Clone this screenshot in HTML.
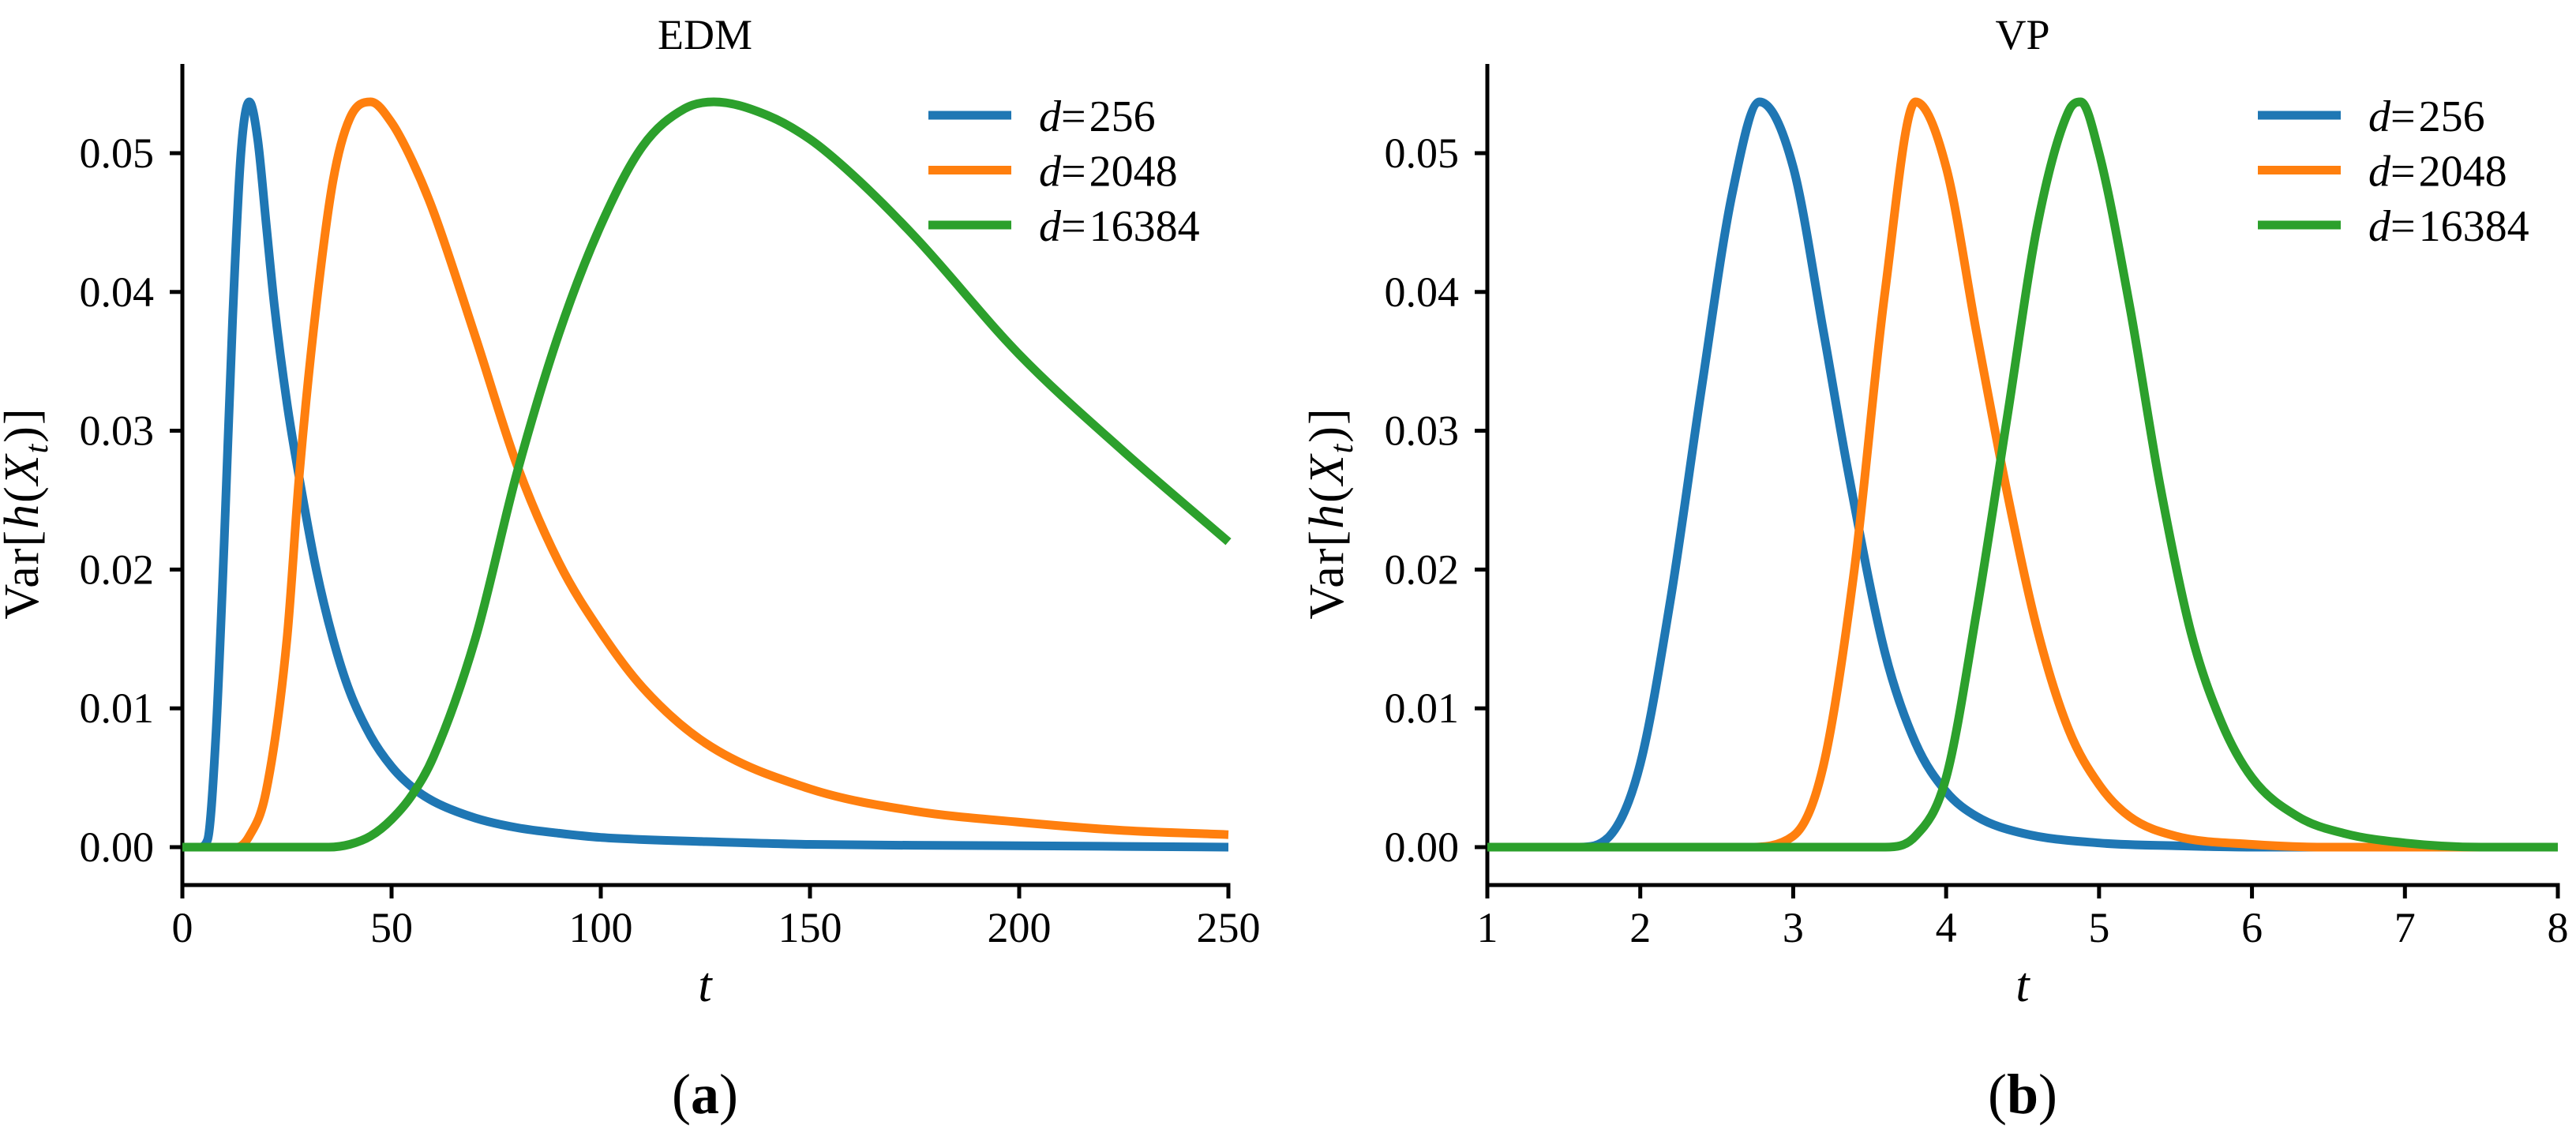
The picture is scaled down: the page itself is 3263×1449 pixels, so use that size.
<!DOCTYPE html>
<html><head><meta charset="utf-8"><style>
html,body{margin:0;padding:0;background:#fff;}
svg text{font-family:"Liberation Serif",serif;fill:#000;}
</style></head><body>
<svg id="fig" width="3263" height="1444" xmlns="http://www.w3.org/2000/svg"></svg>
<script>
const tA=[0,4,6,8,10,12,14,16,18,20,22,25,28,32,36,40,45,50,55,60,70,80,90,100,125,150,200,250];
const blueA=[0,0,0.0005,0.008,0.022,0.038,0.050,0.0537,0.051,0.045,0.039,0.032,0.0265,0.020,0.015,0.0112,0.008,0.0058,0.0043,0.0033,0.0021,0.0014,0.001,0.0007,0.0004,0.0002,0.0001,0];
const tA2=[0,13,16,20,25,28,32,36,40,45,50,55,60,70,80,90,100,110,125,150,175,200,225,250];
const orangeA=[0,0,0.0008,0.004,0.015,0.027,0.039,0.048,0.0525,0.0537,0.0522,0.0494,0.0458,0.0368,0.0275,0.0205,0.0155,0.0115,0.0075,0.0042,0.0026,0.0018,0.0012,0.0009];
const tA3=[0,35,40,45,50,55,60,70,80,90,100,110,120,127,140,150,160,175,200,225,250];
const greenA=[0,0,0.0002,0.0008,0.002,0.0038,0.0065,0.015,0.027,0.037,0.0448,0.0505,0.0532,0.0537,0.0527,0.051,0.0485,0.044,0.0355,0.0285,0.022];
const tB1=[1,1.6,1.8,2.0,2.2,2.4,2.6,2.78,3.0,3.2,3.36,3.6,3.8,4.0,4.2,4.5,5.0,5.5,6,8];
const blueB=[0,0,0.0008,0.006,0.018,0.033,0.047,0.0537,0.049,0.037,0.027,0.014,0.0075,0.004,0.0022,0.001,0.0003,0.0001,0,0];
const tB2=[1,2.7,3.0,3.2,3.4,3.6,3.8,4.0,4.2,4.4,4.6,4.8,5.0,5.2,5.5,6,6.5,8];
const orangeB=[0,0,0.0008,0.006,0.02,0.04,0.0537,0.049,0.037,0.0255,0.0155,0.0085,0.0045,0.0022,0.0008,0.0002,0,0];
const tB3=[1,3.6,3.8,4.0,4.2,4.4,4.6,4.8,4.88,5.0,5.2,5.4,5.6,5.8,6.0,6.3,6.6,7,7.5,8];
const greenB=[0,0,0.0008,0.005,0.017,0.031,0.045,0.053,0.0537,0.05,0.039,0.026,0.0155,0.009,0.005,0.0022,0.001,0.0003,0,0];
const yTicks=[0,0.01,0.02,0.03,0.04,0.05];
const yTickLabels=["0.00","0.01","0.02","0.03","0.04","0.05"];
const xTicksA=[0,50,100,150,200,250];
const xTicksB=[1,2,3,4,5,6,7,8];
const legendLabels=["256","2048","16384"];

const NS="http://www.w3.org/2000/svg";
const svg=document.getElementById('fig');
function mk(tag,attrs,parent){const e=document.createElementNS(NS,tag);for(const k in attrs)e.setAttribute(k,attrs[k]);(parent||svg).appendChild(e);return e;}
const colors=["#1f77b4","#ff7f0e","#2ca02c"];
const yScale=v=>1073-v*17580;
function monoPath(px,py){
  const n=px.length,d=[],m=new Array(n);
  for(let i=0;i<n-1;i++)d.push((py[i+1]-py[i])/(px[i+1]-px[i]));
  m[0]=d[0];m[n-1]=d[n-2];
  for(let i=1;i<n-1;i++){m[i]=(d[i-1]*d[i]<=0)?0:(d[i-1]+d[i])/2;}
  for(let i=0;i<n-1;i++){
    if(d[i]===0){m[i]=0;m[i+1]=0;continue;}
    const a=m[i]/d[i],b=m[i+1]/d[i],s=a*a+b*b;
    if(s>9){const t=3/Math.sqrt(s);m[i]=t*a*d[i];m[i+1]=t*b*d[i];}
  }
  let p='M'+px[0].toFixed(1)+','+py[0].toFixed(1);
  for(let i=0;i<n-1;i++){const h=(px[i+1]-px[i])/3;
    p+=' C'+(px[i]+h).toFixed(1)+','+(py[i]+m[i]*h).toFixed(1)+' '+(px[i+1]-h).toFixed(1)+','+(py[i+1]-m[i+1]*h).toFixed(1)+' '+px[i+1].toFixed(1)+','+py[i+1].toFixed(1);}
  return p;
}
function panel(id,x0,x1,xmin,xmax,xticks,series,title,sub,cx){
  const g=mk('g',{});
  
  
  const xs=v=>x0+(v-xmin)/(xmax-xmin)*(x1-x0);
  const yl=mk('line',{x1:x0,y1:81,x2:x0,y2:1121,stroke:'#000','stroke-width':5},g);
  
  const xl=mk('line',{x1:x0-2.5,y1:1121,x2:x1+2.5,y2:1121,stroke:'#000','stroke-width':5},g);
  
  yTicks.forEach((v,i)=>{const y=yScale(v);
    mk('line',{x1:x0-16,y1:y,x2:x0,y2:y,stroke:'#000','stroke-width':5},g);
    const t=mk('text',{x:x0-36,y:y+18,'text-anchor':'end','font-size':54},g);t.textContent=yTickLabels[i];
    });
  xticks.forEach(v=>{const x=xs(v);
    mk('line',{x1:x,y1:1121,x2:x,y2:1138,stroke:'#000','stroke-width':5},g);
    const t=mk('text',{x:x,y:1193,'text-anchor':'middle','font-size':54},g);t.textContent=String(v);
    });
  series.forEach((s,i)=>{
    const d=monoPath(s[0].map(xs),s[1].map(yScale));
    const p=mk('path',{d:d,fill:'none',stroke:colors[i],'stroke-width':11,'stroke-linejoin':'round'},g);
    
    
  });
  const tt=mk('text',{x:cx,y:62,'text-anchor':'middle','font-size':54},g);tt.textContent=title;
  
  const yt=mk('text',{x:0,y:0,'text-anchor':'middle','font-size':62,'letter-spacing':'2',transform:`translate(${x0-183},650) rotate(-90)`},g);
  yt.innerHTML='Var[<tspan font-style="italic">h</tspan>(<tspan font-style="italic">X</tspan><tspan font-style="italic" font-size="42" dy="12">t</tspan><tspan dy="-12">)]</tspan>';
  
  const xt=mk('text',{x:cx,y:1268,'text-anchor':'middle','font-size':62,'font-style':'italic'},g);xt.textContent='t';
  
  const st=mk('text',{x:cx,y:1410,'text-anchor':'middle','font-size':72},g);
  st.innerHTML='(<tspan font-weight="bold">'+sub+'</tspan>)';
  
  const lx=x1-380;
  legendLabels.forEach((lab,i)=>{const y=146+i*69.5;
    const le=mk('g',{},g);
    
    
    mk('line',{x1:lx,y1:y,x2:lx+105,y2:y,stroke:colors[i],'stroke-width':11},le);
    const t=mk('text',{x:lx+140,y:y+20,'font-size':56},le);
    t.innerHTML='<tspan font-style="italic">d</tspan>=<tspan dx="4">'+lab+'</tspan>';
  });
}
panel('panel-edm',231,1556,0,250,xTicksA,[[tA,blueA],[tA2,orangeA],[tA3,greenA]],'EDM','a',893);
panel('panel-vp',1884,3240,1,8,xTicksB,[[tB1,blueB],[tB2,orangeB],[tB3,greenB]],'VP','b',2562);
</script>
</body></html>
